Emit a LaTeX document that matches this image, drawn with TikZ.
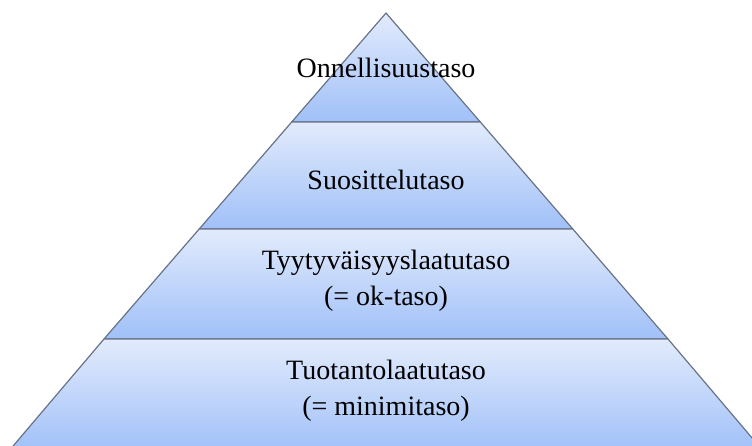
\documentclass[tikz,border=0pt]{standalone}
\usepackage{fontspec}
\setmainfont{Liberation Serif}
\usetikzlibrary{positioning}
\definecolor{layertop}{RGB}{226,235,252}
\definecolor{layerbottom}{RGB}{160,192,248}
\definecolor{layeredge}{RGB}{105,115,135}

\begin{document}
\begin{tikzpicture}[x=1pt, y=-1pt,
  layer/.style={top color=layertop, bottom color=layerbottom, draw=layeredge, line width=1.2pt, line join=round},
  levellabel/.style={font=\fontsize{28}{36}\selectfont, align=center, text=black}]
  \useasboundingbox (0,0) rectangle (752,445);
  \clip (0,0) rectangle (752,445);
  % pyramid layers, top to bottom
  \path[layer] (386,13) -- (480.3,122) -- (291.7,122) -- cycle;
  \path[layer] (291.7,122) -- (480.3,122) -- (572.8,229) -- (199.2,229) -- cycle;
  \path[layer] (199.2,229) -- (572.8,229) -- (668,339) -- (104,339) -- cycle;
  \path[layer] (104,339) -- (668,339) -- (764,452) -- (8,452) -- cycle;
  % level texts
  \node[levellabel] (happy) at (386,68) {Onnellisuustaso};
  \node[levellabel] (recommend) at (386,180) {Suosittelutaso};
  \node[levellabel] (satisfied) at (386,281) {Tyytyväisyyslaatutaso\\(= ok-taso)};
  \node[levellabel] (production) at (386,391) {Tuotantolaatutaso\\(= minimitaso)};
\end{tikzpicture}
\end{document}
